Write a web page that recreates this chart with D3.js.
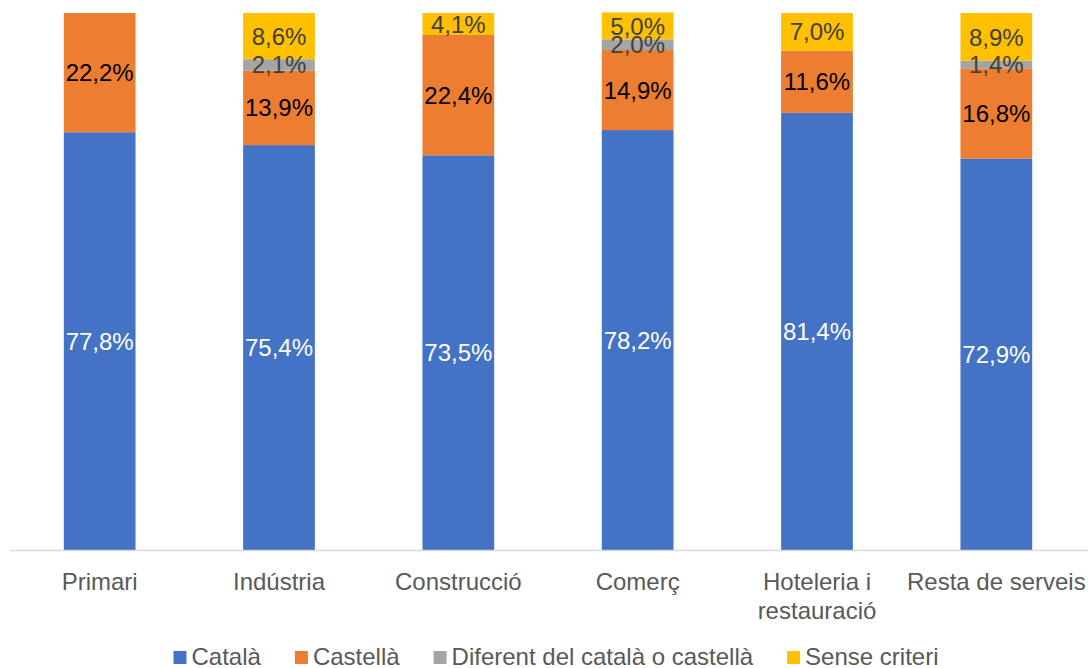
<!DOCTYPE html>
<html>
<head>
<meta charset="utf-8">
<script src="https://cdn.jsdelivr.net/npm/d3@7"></script>
<style>
  body { margin: 0; background: #fff; }
  svg { font-family: "Liberation Sans", Arial, sans-serif; }
</style>
</head>
<body>
<svg id="chart" width="1088" height="668"></svg>
<script>
const categories = ["Primari", "Indústria", "Construcció", "Comerç", "Hoteleria i\nrestauració", "Resta de serveis"];
const seriesNames = ["Català", "Castellà", "Diferent del català o castellà", "Sense criteri"];
const catala = [77.8, 75.4, 73.5, 78.2, 81.4, 72.9];
const castella = [22.2, 13.9, 22.4, 14.9, 11.6, 16.8];
const diferent = [0, 2.1, 0, 2.0, 0, 1.4];
const senseCriteri = [0, 8.6, 4.1, 5.0, 7.0, 8.9];

const COLORS = ["#4472c4", "#ed7d31", "#a5a5a5", "#ffc000"];
const LABEL_COLORS = ["#ffffff", "#000000", "#404040", "#404040"];

const svg = d3.select("#chart");
const X_SCALE = d3.scaleBand().domain(categories).range([10, 1086]).paddingInner(0.6).paddingOuter(0.3);
const Y_SCALE = d3.scaleLinear().domain([0, 100]).range([550, 13]);

const rows = categories.map((c, i) => ({
  category: c,
  s0: catala[i], s1: castella[i], s2: diferent[i], s3: senseCriteri[i]
}));
const stack = d3.stack().keys(["s0", "s1", "s2", "s3"]);
const layers = stack(rows);

const groups = svg.selectAll(".layer")
  .data(layers)
  .enter()
  .append("g")
  .classed("layer", true)
  .attr("fill", (d, i) => COLORS[i]);

groups.selectAll("rect")
  .data(d => d)
  .enter()
  .append("rect")
  .attr("x", d => X_SCALE(d.data.category))
  .attr("width", X_SCALE.bandwidth())
  .attr("y", d => Y_SCALE(d[1]))
  .attr("height", d => Y_SCALE(d[0]) - Y_SCALE(d[1]));

// segment labels
layers.forEach((layer, li) => {
  svg.append("g")
    .selectAll("text")
    .data(layer.filter(d => d[1] - d[0] > 0))
    .enter()
    .append("text")
    .attr("x", d => X_SCALE(d.data.category) + X_SCALE.bandwidth() / 2)
    .attr("y", d => Y_SCALE((d[0] + d[1]) / 2))
    .attr("dy", "0.36em")
    .attr("text-anchor", "middle")
    .attr("font-size", 24)
    .attr("fill", LABEL_COLORS[li])
    .text(d => (d[1] - d[0]).toFixed(1).replace(".", ",") + "%");
});

// axis
svg.append("line")
  .attr("x1", 10).attr("x2", 1088)
  .attr("y1", 550.5).attr("y2", 550.5)
  .attr("stroke", "#d9d9d9")
  .attr("stroke-width", 1.5);

const ticks = svg.append("g")
  .selectAll("text")
  .data(categories)
  .enter()
  .append("text")
  .attr("x", d => X_SCALE(d) + X_SCALE.bandwidth() / 2)
  .attr("y", 590)
  .attr("text-anchor", "middle")
  .attr("font-size", 24)
  .attr("fill", "#595959");
ticks.each(function (d) {
  const lines = d.split("\n");
  const t = d3.select(this);
  lines.forEach((l, i) => {
    t.append("tspan")
      .attr("x", X_SCALE(d) + X_SCALE.bandwidth() / 2)
      .attr("dy", i === 0 ? 0 : 29)
      .text(l);
  });
});

// legend
const legend = svg.append("g");
let lx = 0;
seriesNames.forEach((name, i) => {
  const item = legend.append("g").attr("transform", `translate(${lx},0)`);
  item.append("rect")
    .attr("x", 0).attr("y", -14)
    .attr("width", 13).attr("height", 13)
    .attr("fill", COLORS[i]);
  const txt = item.append("text")
    .attr("x", 18).attr("y", 0)
    .attr("font-size", 24)
    .attr("fill", "#595959")
    .text(name);
  lx += 18 + txt.node().getComputedTextLength() + 34;
});
const legendWidth = lx - 34;
legend.attr("transform", `translate(${556 - legendWidth / 2},665)`);
</script>
</body>
</html>
